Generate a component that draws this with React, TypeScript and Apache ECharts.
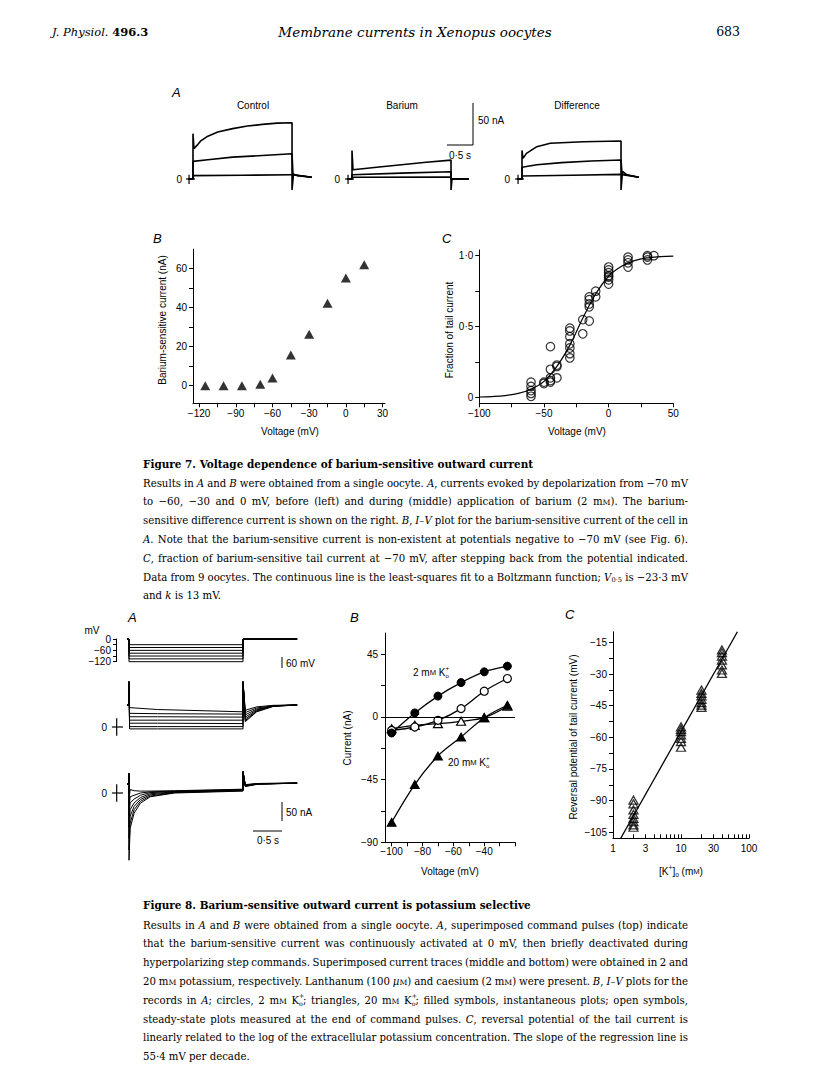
import React, { useEffect, useRef } from 'react';
import * as echarts from 'echarts';

// ---------------- Figure 7A: current traces [time (s), current (nA)] ----------------
const CTRL_TOP = [[-0.1, 0], [0, 0], [0, 54], [0.02, 36], [0.08, 40], [0.15, 45], [0.3, 51], [0.5, 56], [0.8, 60], [1.1, 63], [1.4, 65], [1.7, 66.5], [2, 67], [2, -13], [2.03, 6], [2.1, 4], [2.4, 2]];
const CTRL_MID = [[-0.1, 0], [0, 0], [0, 21], [0.3, 23], [0.8, 26], [1.4, 28], [2, 30], [2.02, 5], [2.4, 2]];
const CTRL_LOW = [[-0.1, 0], [0, 0], [0, 4], [1, 4.5], [2, 5], [2.03, 5], [2.4, 2]];
const BA_TOP = [[-0.1, 0], [0, 0], [0, 34], [0.02, 11], [0.5, 14], [1, 17], [1.5, 20], [2, 22.5], [2, -13], [2.02, 0], [2.36, 0]];
const BA_MID = [[-0.1, 0], [0, 0], [0, 5], [1, 7], [2, 8.7], [2, 0], [2.36, 0]];
const BA_LOW = [[-0.1, 0], [0, 0], [0, 2], [2, 2.4], [2, 0], [2.36, 0]];
const DIF_TOP = [[-0.1, 0], [0, 0], [0, 34], [0.02, 24.6], [0.09, 30.5], [0.3, 38.5], [0.57, 42.5], [1.24, 44.4], [2, 45.2], [2, -13], [2.03, 9], [2.12, 5], [2.36, 2]];
const DIF_MID = [[-0.1, 0], [0, 0], [0, 14], [0.3, 17], [0.8, 19.5], [1.4, 21.5], [2, 22.6], [2.02, 6], [2.36, 2]];
const DIF_LOW = [[-0.1, 0], [0, 0], [0, 3.6], [1, 4.5], [2, 5.5], [2.03, 5], [2.36, 2]];
const A7_CROSS_T = [-0.14, 0.04];
const A7_CROSS_X = -0.08;
const A7_CROSS_I = [-6, 5];

// ---------------- Figure 7B: I–V of barium-sensitive current ----------------
const B7_V = [-115, -100, -85, -70, -60, -45, -30, -15, 0, 15];
const B7_I = [0, 0, 0, 0.8, 3.9, 15.8, 26.4, 42.3, 55.2, 62];
const B7_XTICKS = [-120, -105, -90, -75, -60, -45, -30, -15, 0, 15, 30];
const B7_XLABELS = [-120, -90, -60, -30, 0, 30];
const B7_YTICKS = [0, 10, 20, 30, 40, 50, 60];
const B7_YLABELS = [0, 20, 40, 60];

// ---------------- Figure 7C: fraction of tail current ----------------
const C7_V = [-60, -60, -60, -60, -60, -50, -50, -45, -45, -45, -45, -45, -40, -40, -40, -30, -30, -30, -30, -30, -30, -30, -20, -20, -15, -15, -15, -15, -15, -10, -10, 0, 0, 0, 0, 0, 0, 0, 15, 15, 15, 15, 30, 30, 30, 35];
const C7_F = [0.11, 0.08, 0.05, 0.03, 0.01, 0.10, 0.11, 0.36, 0.20, 0.14, 0.11, 0.12, 0.23, 0.22, 0.14, 0.49, 0.47, 0.43, 0.38, 0.35, 0.31, 0.28, 0.55, 0.45, 0.71, 0.69, 0.66, 0.64, 0.54, 0.75, 0.71, 0.92, 0.90, 0.88, 0.86, 0.85, 0.83, 0.80, 0.99, 0.97, 0.95, 0.92, 1.00, 0.99, 0.97, 1.00];
const FIT_V = [-100, -90, -80, -70, -60, -50, -40, -30, -20, -10, 0, 10, 20, 30, 40, 50];
const FIT_F = [0.005, 0.008, 0.015, 0.03, 0.06, 0.115, 0.22, 0.37, 0.56, 0.73, 0.855, 0.925, 0.965, 0.985, 0.993, 0.997];
const C7_XTICKS = [-100, -75, -50, -25, 0, 25, 50];
const C7_XLABELS = [-100, -50, 0, 50];
const C7_YTICKS = [0, 0.25, 0.5, 0.75, 1];
const C7_YLABELS = [0, 0.5, 1];

// ---------------- Figure 8A: command pulses and current traces ----------------
const V_STEPS = [-30, -45, -60, -75, -90, -105, -120];
const V_TIMES = [-0.035, 0, 0, 2, 2, 2.95];
const V_YTICKS = [0, -30, -60, -90, -120];
const V_YLABELS = [0, -60, -120];

const K2_TIMES = [-0.035, 0, 0, 0.01, 0.5, 2, 2, 2.04, 2.24, 2.53, 2.95];
const K2_HOLD = 58;
const K2_SPIKE = 119;
const K2_START = [51, 36, 27, 18, 10, 1, -5];
const K2_MID = [46, 35, 27, 18, 10, 1, -5];
const K2_END = [40, 34, 26, 18, 9, 1, -5];
const K2_TAIL1 = [44, 38, 32, 26, 21, 17, 14];
const K2_TAIL2 = [53, 50, 47, 45, 43, 41, 40];
const K2_TAIL3 = [57, 56, 56, 55, 55, 55, 54];

const K20_TIMES = [-0.035, 0, 0, 0, 0.02, 0.09, 0.2, 0.37, 0.8, 2, 2, 2.04, 2.25, 2.95];
const K20_HOLD = 24;
const K20_POST = 26;
const K20_UP = 52;
const K20_UP2 = 56;
const K20_DN = [-20, -40, -60, -90, -120, -150, -177];
const K20_PEAK = [9, -10, -26, -44, -61, -79, -93];
const K20_T009 = [6, -6, -16, -26, -35, -44, -53];
const K20_T02 = [5, 0, -6, -12, -17, -22, -27];
const K20_T037 = [5, 3, 1, -2, -5, -8, -10];
const K20_T08 = [6, 5, 4, 3, 2, 1, 0];
const K20_END = [10, 9, 8, 8, 7, 6, 5];
const K20_TAIL1 = [22, 21, 20, 19, 18, 18, 17];
const K20_TAIL2 = [25, 25, 24, 24, 24, 23, 23];
const A8_CROSS_T = [-0.3, -0.105];
const A8_CROSS_X = -0.216;
const A8_CROSS_I = [-23, 23];

// ---------------- Figure 8B: I–V plots ----------------
const B8_V = [-100, -85, -70, -55, -40, -25];
const B8_K2_INST = [-11.5, 2.9, 15, 24.7, 32.4, 36.5];
const B8_K2_SS = [-9.6, -7.2, -2.4, 6, 18.5, 27.6];
const B8_K20_INST = [-75.6, -48.5, -28, -14.4, -0.5, 8.4];
const B8_K20_SS = [-8.4, -6, -4.8, -3.1, -0.5, 7.7];
const B8_XTICKS = [-100, -90, -80, -70, -60, -50, -40, -30, -20];
const B8_XLABELS = [-100, -80, -60, -40];
const B8_YTICKS = [-90, -67.5, -45, -22.5, 0, 22.5, 45];
const B8_YLABELS = [-90, -45, 0, 45];

// ---------------- Figure 8C: reversal potential vs [K+]o ----------------
const C8_K = [2, 10, 20, 40];
const C8_E2 = [-89.7, -91.5, -94.4, -96.5, -98.4, -100, -101.5, -102.6];
const C8_E10 = [-55, -56.2, -57.3, -58.9, -60.5, -62, -64.7];
const C8_E20 = [-37.6, -39.2, -40.4, -42, -43.6, -44.7, -45.8];
const C8_E40 = [-18.6, -19.9, -21.5, -23.4, -25.7, -28.1, -29.7];
const REG_K = [1.3, 67.6];
const REG_E = [-107.8, -10];
const C8_XLABELS = [1, 3, 10, 30, 100];
const C8_XTICKS = [1, 2, 3, 4, 5, 6, 7, 8, 9, 10, 20, 30, 40, 50, 60, 70, 80, 90, 100];
const C8_YTICKS = [-105, -97.5, -90, -82.5, -75, -67.5, -60, -52.5, -45, -37.5, -30, -22.5, -15];
const C8_YLABELS = [-105, -90, -75, -60, -45, -30, -15];

// ---------------- Captions ----------------
const CAP7_TITLE = 'Figure 7. Voltage dependence of barium-sensitive outward current';
const CAP7 = [
  'Results in <i>A</i> and <i>B</i> were obtained from a single oocyte. <i>A</i>, currents evoked by depolarization from −70 mV',
  'to −60, −30 and 0 mV, before (left) and during (middle) application of barium (2 m<sc>M</sc>). The barium-',
  'sensitive difference current is shown on the right. <i>B</i>, <i>I–V</i> plot for the barium-sensitive current of the cell in',
  '<i>A</i>. Note that the barium-sensitive current is non-existent at potentials negative to −70 mV (see Fig. 6).',
  '<i>C</i>, fraction of barium-sensitive tail current at −70 mV, after stepping back from the potential indicated.',
  'Data from 9 oocytes. The continuous line is the least-squares fit to a Boltzmann function; <i>V</i><sub>0·5</sub> is −23·3 mV',
  'and <i>k</i> is 13 mV.',
];
const CAP8_TITLE = 'Figure 8. Barium-sensitive outward current is potassium selective';
const CAP8 = [
  'Results in <i>A</i> and <i>B</i> were obtained from a single oocyte. <i>A</i>, superimposed command pulses (top) indicate',
  'that the barium-sensitive current was continuously activated at 0 mV, then briefly deactivated during',
  'hyperpolarizing step commands. Superimposed current traces (middle and bottom) were obtained in 2 and',
  '20 m<sc>M</sc> potassium, respectively. Lanthanum (100 <i>µ</i><sc>M</sc>) and caesium (2 m<sc>M</sc>) were present. <i>B</i>, <i>I–V</i> plots for the',
  'records in <i>A</i>; circles, 2 m<sc>M</sc> <ko>; triangles, 20 m<sc>M</sc> <ko>; filled symbols, instantaneous plots; open symbols,',
  'steady-state plots measured at the end of command pulses. <i>C</i>, reversal potential of the tail current is',
  'linearly related to the log of the extracellular potassium concentration. The slope of the regression line is',
  '55·4 mV per decade.',
];

// ---------------- Layout (pixels) ----------------
const SERIF = 'DejaVu Serif';
const SANS = 'Liberation Sans';
const GRIDS = [
  { left: 183.1, top: 120.2, width: 131.2, height: 71.4 }, // 0 7A control
  { left: 342.1, top: 120.2, width: 131.2, height: 71.4 }, // 1 7A barium
  { left: 512.1, top: 120.2, width: 131.2, height: 71.4 }, // 2 7A difference
  { left: 193, top: 249.2, width: 192, height: 154.05 }, // 3 7B
  { left: 479.3, top: 250, width: 194, height: 153.3 }, // 4 7C
  { left: 116, top: 639, width: 184, height: 22.7 }, // 5 8A voltage
  { left: 111.9, top: 679.5, width: 188.1, height: 58.9 }, // 6 8A 2 mM
  { left: 111.9, top: 770.2, width: 188.1, height: 91.2 }, // 7 8A 20 mM
  { left: 385, top: 633, width: 130.1, height: 209.3 }, // 8 8B
  { left: 613, top: 631.8, width: 136, height: 206.5 }, // 9 8C
];

// ---------------- helpers ----------------
const pairs = (xs: number[], ys: number[]) => xs.map((x, i) => [x, ys[i]]);
const minus = (v: number) => (v < 0 ? '−' + Math.abs(v) : String(v));

let mctx: CanvasRenderingContext2D | null = null;
function measure(text: string, size: number, family: string, italic = false, bold = false) {
  if (!mctx) mctx = document.createElement('canvas').getContext('2d');
  mctx!.font = `${italic ? 'italic ' : ''}${bold ? 'bold ' : ''}${size}px "${family}"`;
  return mctx!.measureText(text).width;
}

type Seg = { t: string; i: boolean; b: boolean; k: number; dy: number; adv: boolean };
function parseRich(w: string, bold = false): Seg[] {
  const parts = w.split(/(<\/?(?:i|b|sc|sub|sup)>|<ko>)/);
  let it = false, bd = bold, sc = false, sub = false, sup = false;
  const out: Seg[] = [];
  for (const p of parts) {
    if (!p) continue;
    if (p === '<i>') { it = true; continue; }
    if (p === '</i>') { it = false; continue; }
    if (p === '<b>') { bd = true; continue; }
    if (p === '</b>') { bd = bold; continue; }
    if (p === '<sc>') { sc = true; continue; }
    if (p === '</sc>') { sc = false; continue; }
    if (p === '<sub>') { sub = true; continue; }
    if (p === '</sub>') { sub = false; continue; }
    if (p === '<sup>') { sup = true; continue; }
    if (p === '</sup>') { sup = false; continue; }
    if (p === '<ko>') {
      out.push({ t: 'K', i: it, b: bd, k: 1, dy: 0, adv: true });
      out.push({ t: '+', i: false, b: bd, k: 0.62, dy: -0.42, adv: false });
      out.push({ t: 'o', i: false, b: bd, k: 0.62, dy: 0.3, adv: true });
      continue;
    }
    let k = 1, dy = 0;
    if (sc) { k = 0.76; dy = 0.08; }
    if (sub) { k = 0.66; dy = 0.3; }
    if (sup) { k = 0.66; dy = -0.38; }
    out.push({ t: p, i: it, b: bd, k, dy, adv: true });
  }
  return out;
}

function T(x: number, y: number, text: string, size: number, family: string, o: any = {}) {
  const align = o.align || 'left';
  const va = o.va || 'middle';
  return {
    type: 'text', x, y, rotation: o.rot || 0, silent: true, z: 100,
    style: {
      text, fill: '#000', fontSize: size, fontFamily: family,
      fontStyle: o.i ? 'italic' : 'normal', fontWeight: o.b ? 'bold' : 'normal',
      align, verticalAlign: va, textAlign: align, textVerticalAlign: va,
    },
  };
}
function L(x1: number, y1: number, x2: number, y2: number, w = 1) {
  return { type: 'line', silent: true, z: 100, shape: { x1, y1, x2, y2 }, style: { stroke: '#000', lineWidth: w } };
}
function segsWidth(segs: Seg[], size: number, family: string) {
  let w = 0;
  for (const s of segs) if (s.adv) w += measure(s.t, size * s.k, family, s.i, s.b);
  return w;
}
function placeSegs(segs: Seg[], x: number, y: number, size: number, family: string, els: any[]) {
  let cx = x;
  for (const s of segs) {
    const fs = size * s.k;
    els.push(T(cx, y + s.dy * size, s.t, fs, family, { i: s.i, b: s.b }));
    if (s.adv) cx += measure(s.t, fs, family, s.i, s.b);
  }
  return cx - x;
}
function richAt(str: string, x: number, y: number, size: number, family: string, els: any[], align = 'left') {
  const segs = parseRich(str);
  const w = segsWidth(segs, size, family);
  const x0 = align === 'center' ? x - w / 2 : align === 'right' ? x - w : x;
  placeSegs(segs, x0, y, size, family, els);
}
function fitSize(all: string[][], W: number) {
  let s = 11;
  for (const lines of all) {
    lines.forEach((line, li) => {
      if (li === lines.length - 1) return;
      const words = line.split(' ').map((w) => parseRich(w));
      const tot = words.reduce((a, ws) => a + segsWidth(ws, 10, SERIF), 0);
      const need = tot + measure(' ', 10, SERIF) * 0.8 * (words.length - 1);
      s = Math.min(s, (10 * W) / need);
    });
  }
  return s;
}
function paragraph(lines: string[], x: number, y0: number, lh: number, W: number, size: number, els: any[]) {
  lines.forEach((line, li) => {
    const words = line.split(' ').map((w) => parseRich(w));
    const widths = words.map((ws) => segsWidth(ws, size, SERIF));
    const total = widths.reduce((a, b) => a + b, 0);
    const last = li === lines.length - 1;
    const gap = !last && words.length > 1 ? (W - total) / (words.length - 1) : measure(' ', size, SERIF);
    let cx = x;
    const y = y0 + li * lh;
    words.forEach((ws, wi) => {
      placeSegs(ws, cx, y, size, SERIF, els);
      cx += widths[wi] + gap;
    });
  });
}

const AX_LINE = { show: true, onZero: false, lineStyle: { color: '#000', width: 1 } };
function hidden(gridIndex: number, min: number, max: number) {
  return { type: 'value', gridIndex, min, max, show: false, splitLine: { show: false } };
}
function shown(gridIndex: number, min: number, max: number, ticks: number[], labels: number[], fmt: (v: number) => string, o: any = {}) {
  return {
    type: 'value', gridIndex, min, max,
    axisLine: AX_LINE,
    axisTick: { show: true, inside: !!o.inside, length: o.tickLen ?? 4, customValues: ticks, lineStyle: { color: '#000', width: 1 } },
    axisLabel: { show: true, customValues: labels, formatter: fmt, margin: o.margin ?? 6, color: '#000', fontSize: 10, fontFamily: SANS },
    splitLine: { show: false },
    splitArea: { show: false },
  };
}
function trace(gi: number, data: number[][], w = 1.3) {
  return {
    type: 'line', xAxisIndex: gi, yAxisIndex: gi, data, symbol: 'none', showSymbol: false, clip: false,
    silent: true, lineStyle: { color: '#000', width: w }, emphasis: { disabled: true },
  };
}

function buildOption() {
  const xAxis: any[] = [];
  const yAxis: any[] = [];
  const series: any[] = [];
  const els: any[] = [];

  // ----- Figure 7A -----
  const a7 = [[CTRL_TOP, CTRL_MID, CTRL_LOW], [BA_TOP, BA_MID, BA_LOW], [DIF_TOP, DIF_MID, DIF_LOW]];
  a7.forEach((tr, gi) => {
    xAxis.push(hidden(gi, -0.2, 2.45));
    yAxis.push(hidden(gi, -15, 70));
    tr.forEach((d) => series.push(trace(gi, d, 1.6)));
    series.push(trace(gi, pairs(A7_CROSS_T, [0, 0]), 1.2));
    series.push(trace(gi, pairs([A7_CROSS_X, A7_CROSS_X], A7_CROSS_I), 1.2));
  });

  // ----- Figure 7B -----
  xAxis.push(shown(3, -125, 32, B7_XTICKS, B7_XLABELS, minus, { margin: 5 }));
  yAxis.push(shown(3, -9, 70, B7_YTICKS, B7_YLABELS, minus, { margin: 6 }));
  series.push({
    type: 'scatter', xAxisIndex: 3, yAxisIndex: 3, data: pairs(B7_V, B7_I), symbol: 'triangle', symbolSize: [10, 9],
    itemStyle: { color: '#000' }, silent: true, emphasis: { disabled: true },
  });

  // ----- Figure 7C -----
  xAxis.push(shown(4, -100, 50, C7_XTICKS, C7_XLABELS, minus, { margin: 5 }));
  yAxis.push(shown(4, -0.0394, 1.04, C7_YTICKS, C7_YLABELS, (v: number) => (v === 0 ? '0' : v.toFixed(1).replace('.', '·')), { margin: 6 }));
  series.push({ ...trace(4, pairs(FIT_V, FIT_F), 1.2), smooth: 0.4 });
  series.push({
    type: 'scatter', xAxisIndex: 4, yAxisIndex: 4, data: pairs(C7_V, C7_F), symbol: 'circle', symbolSize: 8.5,
    itemStyle: { color: 'rgba(255,255,255,0)', borderColor: '#000', borderWidth: 1.2 }, silent: true, emphasis: { disabled: true },
  });

  // ----- Figure 8A -----
  xAxis.push(hidden(5, -0.228, 3.0));
  yAxis.push(shown(5, -120, 0, V_YTICKS, V_YLABELS, minus, { margin: 5, tickLen: 3 }));
  V_STEPS.forEach((v) => series.push(trace(5, pairs(V_TIMES, [0, 0, v, v, 0, 0]), 1)));

  xAxis.push(hidden(6, -0.3, 3.0));
  yAxis.push(hidden(6, -30, 125));
  K2_START.forEach((_, i) =>
    series.push(trace(6, pairs(K2_TIMES, [K2_HOLD, K2_HOLD, K2_SPIKE, K2_START[i], K2_MID[i], K2_END[i], K2_SPIKE, K2_TAIL1[i], K2_TAIL2[i], K2_TAIL3[i], K2_HOLD]), 1)),
  );
  series.push(trace(6, pairs(A8_CROSS_T, [0, 0]), 1.2));
  series.push(trace(6, pairs([A8_CROSS_X, A8_CROSS_X], A8_CROSS_I), 1.2));

  xAxis.push(hidden(7, -0.3, 3.0));
  yAxis.push(hidden(7, -180, 60));
  K20_PEAK.forEach((_, i) =>
    series.push(trace(7, pairs(K20_TIMES, [K20_HOLD, K20_HOLD, K20_UP, K20_DN[i], K20_PEAK[i], K20_T009[i], K20_T02[i], K20_T037[i], K20_T08[i], K20_END[i], K20_UP2, K20_TAIL1[i], K20_TAIL2[i], K20_POST]), 1)),
  );
  series.push(trace(7, pairs(A8_CROSS_T, [0, 0]), 1.2));
  series.push(trace(7, pairs([A8_CROSS_X, A8_CROSS_X], A8_CROSS_I), 1.2));

  // ----- Figure 8B -----
  xAxis.push(shown(8, -104.3, -20, B8_XTICKS, B8_XLABELS, minus, { margin: 4 }));
  yAxis.push(shown(8, -90, 60.3, B8_YTICKS, B8_YLABELS, minus, { margin: 7 }));
  const b8 = (data: number[], sym: string, filled: boolean, extra: any = {}) => ({
    type: 'line', xAxisIndex: 8, yAxisIndex: 8, data: pairs(B8_V, data), smooth: 0.35, symbol: sym, symbolSize: sym === 'triangle' ? [9, 8] : 8,
    showSymbol: true, showAllSymbol: true, clip: false, silent: true, emphasis: { disabled: true },
    lineStyle: { color: '#000', width: 1.3 },
    itemStyle: filled ? { color: '#000', borderColor: '#000', borderWidth: 1 } : { color: '#fff', borderColor: '#000', borderWidth: 1.2 },
    ...extra,
  });
  series.push(b8(B8_K20_SS, 'triangle', false, {
    markLine: { silent: true, symbol: 'none', label: { show: false }, lineStyle: { color: '#000', type: 'solid', width: 1 }, data: [{ yAxis: 0 }] },
  }));
  series.push(b8(B8_K2_SS, 'circle', false));
  series.push(b8(B8_K20_INST, 'triangle', true));
  series.push(b8(B8_K2_INST, 'circle', true));

  // ----- Figure 8C -----
  xAxis.push(shown(9, 0, 2, C8_XTICKS.map(Math.log10), C8_XLABELS.map(Math.log10), (v: number) => String(Math.round(Math.pow(10, v))), { margin: 5, inside: true, tickLen: 4 }));
  yAxis.push(shown(9, -107.84, -10, C8_YTICKS, C8_YLABELS, minus, { margin: 6 }));
  series.push(trace(9, pairs(REG_K.map(Math.log10), REG_E), 1.3));
  const c8 = [C8_E2, C8_E10, C8_E20, C8_E40].flatMap((arr, ci) => arr.map((e) => [Math.log10(C8_K[ci]), e]));
  series.push({
    type: 'scatter', xAxisIndex: 9, yAxisIndex: 9, data: c8, symbol: 'triangle', symbolSize: [9, 8],
    itemStyle: { color: 'rgba(255,255,255,0)', borderColor: '#000', borderWidth: 1.3 }, silent: true, emphasis: { disabled: true },
  });

  // ----- Texts: header -----
  richAt('<i>J. Physiol.</i> <b>496.3</b>', 52, 32, 11.5, SERIF, els);
  els.push(T(415, 32, 'Membrane currents in Xenopus oocytes', 13.5, SERIF, { i: true, align: 'center' }));
  els.push(T(740, 31, '683', 12.5, SERIF, { align: 'right' }));

  // ----- Figure 7 annotations -----
  els.push(T(172, 92, 'A', 13, SANS, { i: true }));
  els.push(T(253, 105, 'Control', 10, SANS, { align: 'center' }));
  els.push(T(402, 105, 'Barium', 10, SANS, { align: 'center' }));
  els.push(T(577, 105, 'Difference', 10, SANS, { align: 'center' }));
  els.push(T(182, 179, '0', 10, SANS, { align: 'right' }));
  els.push(T(340, 179, '0', 10, SANS, { align: 'right' }));
  els.push(T(510, 179, '0', 10, SANS, { align: 'right' }));
  els.push(L(473, 103, 473, 145));
  els.push(L(447, 145, 473, 145));
  els.push(T(478, 120, '50 nA', 10, SANS));
  els.push(T(460, 155, '0·5 s', 10, SANS, { align: 'center' }));

  els.push(T(153, 238, 'B', 13, SANS, { i: true }));
  els.push(T(442, 238, 'C', 13, SANS, { i: true }));
  els.push(T(162, 320, 'Barium-sensitive current (nA)', 10, SANS, { align: 'center', rot: Math.PI / 2 }));
  els.push(T(449, 330, 'Fraction of tail current', 10, SANS, { align: 'center', rot: Math.PI / 2 }));
  els.push(T(290, 431, 'Voltage (mV)', 10, SANS, { align: 'center' }));
  els.push(T(577, 431, 'Voltage (mV)', 10, SANS, { align: 'center' }));

  // ----- Figure 8 annotations -----
  els.push(T(128, 617, 'A', 13, SANS, { i: true }));
  els.push(T(92, 630, 'mV', 10, SANS, { align: 'center' }));
  els.push(L(282, 657, 282, 668));
  els.push(T(286, 663, '60 mV', 10, SANS));
  els.push(T(107, 727, '0', 10, SANS, { align: 'right' }));
  els.push(T(107, 793, '0', 10, SANS, { align: 'right' }));
  els.push(L(282, 802, 282, 821));
  els.push(T(286, 812, '50 nA', 10, SANS));
  els.push(L(253, 831, 282, 831));
  els.push(T(268, 840, '0·5 s', 10, SANS, { align: 'center' }));

  els.push(T(350, 617, 'B', 13, SANS, { i: true }));
  els.push(T(347, 738, 'Current (nA)', 10, SANS, { align: 'center', rot: Math.PI / 2 }));
  richAt('2 m<sc>M</sc> <ko>', 413, 672, 10, SANS, els);
  richAt('20 m<sc>M</sc> <ko>', 448, 762, 10, SANS, els);
  els.push(T(450, 871, 'Voltage (mV)', 10, SANS, { align: 'center' }));

  els.push(T(565, 614, 'C', 13, SANS, { i: true }));
  els.push(T(573, 737, 'Reversal potential of tail current (mV)', 10, SANS, { align: 'center', rot: Math.PI / 2 }));
  richAt('[K<sup>+</sup>]<sub>o</sub> (m<sc>M</sc>)', 681, 871, 10, SANS, els, 'center');

  // ----- Captions -----
  const W = 545;
  const size = fitSize([CAP7, CAP8], W);
  els.push(T(143, 464, CAP7_TITLE, size + 0.3, SERIF, { b: true }));
  paragraph(CAP7, 143, 483, 18.8, W, size, els);
  els.push(T(143, 905, CAP8_TITLE, size + 0.3, SERIF, { b: true }));
  paragraph(CAP8, 143, 925, 18.8, W, size, els);

  return {
    animation: false,
    backgroundColor: '#fff',
    grid: GRIDS.map((g) => ({ ...g, containLabel: false, outerBoundsMode: 'none', show: false })),
    xAxis,
    yAxis,
    series,
    graphic: { elements: els },
  };
}

export default function App() {
  const ref = useRef<HTMLDivElement>(null);
  useEffect(() => {
    if (!ref.current) return;
    const chart = echarts.init(ref.current, undefined, { renderer: 'svg' });
    chart.setOption(buildOption() as any);
    return () => chart.dispose();
  }, []);
  return <div ref={ref} style={{ position: 'absolute', left: 0, top: 0, width: 816, height: 1071, background: '#fff' }} />;
}
